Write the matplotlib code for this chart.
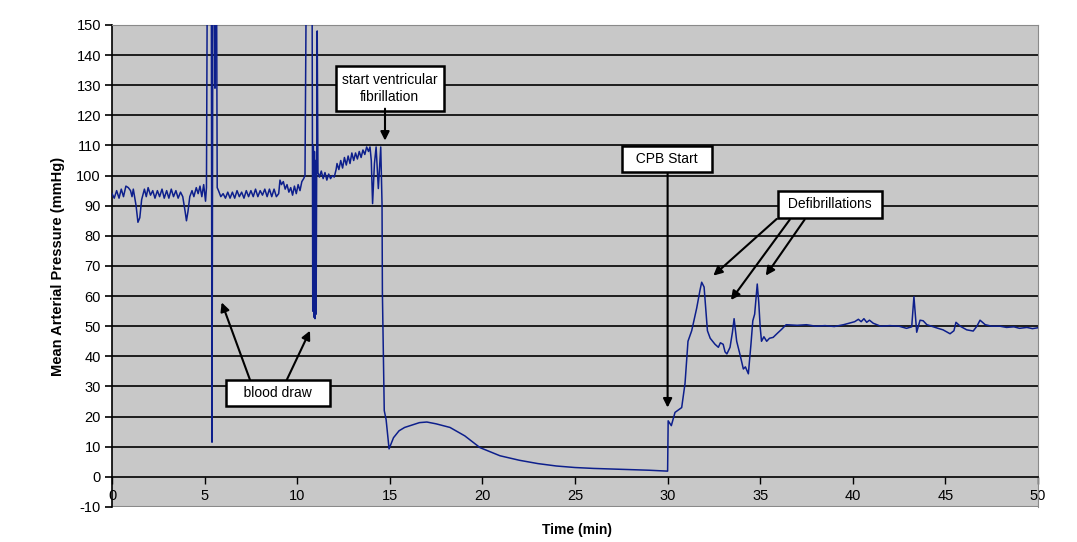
import matplotlib
matplotlib.use('Agg')
import matplotlib.pyplot as plt
import numpy as np

plt.rcParams['font.family'] = ['Liberation Sans', 'DejaVu Sans']
plt.rcParams['axes.unicode_minus'] = False

# baseline before first blood draw
pre_t = [0.0, 0.12, 0.25, 0.38, 0.5, 0.62, 0.75, 0.88, 1.0, 1.08, 1.15, 1.3, 1.4, 1.5, 1.6,
         1.75, 1.85, 1.95, 2.08, 2.2, 2.32, 2.45, 2.57, 2.7, 2.82, 2.95, 3.07, 3.2, 3.32,
         3.45, 3.57, 3.7, 3.82, 3.95, 4.02, 4.1, 4.2, 4.32, 4.42, 4.55, 4.65, 4.75, 4.85,
         4.95, 5.05, 5.1]
pre_v = [94, 92.5, 95, 92.5, 95.5, 93, 96.5, 96, 95, 93, 95.5, 90, 84.5, 86, 92,
         95.5, 93, 96, 93.5, 95, 92.5, 95, 93, 95.5, 92.5, 95, 92.5, 95.5, 93,
         95, 92.5, 94.5, 93, 88, 85, 88, 93, 95, 93, 96, 94, 96.5, 93,
         97, 91.5, 96]

# first blood draw
draw1_t = [5.15, 5.36, 5.40, 5.45, 5.52, 5.56, 5.60, 5.64, 5.68]
draw1_v = [175, 175, 11.5, 175, 175, 129, 175, 175, 96]

# baseline between draws
mid_t = [5.75, 5.875, 6.0, 6.125, 6.25, 6.375, 6.5, 6.625, 6.75, 6.875, 7.0, 7.125, 7.25,
         7.375, 7.5, 7.625, 7.75, 7.875, 8.0, 8.125, 8.25, 8.375, 8.5, 8.625, 8.75, 8.875,
         9.0, 9.07, 9.15, 9.25, 9.35, 9.45, 9.55, 9.65, 9.75, 9.85, 9.95, 10.05, 10.15,
         10.25, 10.35, 10.42]
mid_v = [95, 93, 94, 92.5, 94.5, 92.5, 94.5, 92.5, 95, 93, 94.5, 92.5, 95,
         93, 95, 93, 95.5, 93, 95, 93.5, 95.5, 93, 95.5, 93, 95.5, 93,
         94, 98.5, 97, 98, 95.5, 97, 94.5, 96, 93.5, 96.5, 94, 97, 95,
         98, 99, 100]

# second blood draw
draw2_t = [10.5, 10.80, 10.84, 10.87, 10.90, 10.93, 10.96, 10.99, 11.02, 11.08]
draw2_v = [175, 175, 55, 110, 53, 108, 52.5, 105, 54, 148]

# rise, ventricular fibrillation and decay
vf_t = [11.12, 11.2, 11.3, 11.4, 11.5, 11.6, 11.7, 11.8, 11.9, 12.0, 12.1, 12.15, 12.25,
        12.35, 12.45, 12.55, 12.65, 12.75, 12.85, 12.95, 13.05, 13.15, 13.25, 13.35, 13.45,
        13.55, 13.65, 13.75, 13.85, 13.93, 14.0, 14.07, 14.17, 14.26, 14.38, 14.51, 14.58,
        14.6, 14.7, 14.8, 14.96, 15.2, 15.5, 15.8, 16.1, 16.6, 17.0, 17.5, 18.25, 19.05,
        19.87, 20.95, 22, 23, 24, 25, 26, 27, 28, 29, 29.95]
vf_v = [101, 99.5, 101.5, 99, 101, 98.5, 100.5, 99, 100, 99.5, 102, 104, 102,
        105, 102.5, 106, 103.5, 106.5, 104, 107.5, 105, 107.5, 105.5, 108, 106,
        108.5, 107, 109.5, 108, 109.5, 105, 90.7, 104, 109.5, 95.7, 109.5, 90.6,
        61, 22, 19, 9.3, 13, 15.3, 16.4, 17, 18, 18.2, 17.6, 16.4, 13.6,
        9.7, 7, 5.5, 4.4, 3.6, 3.1, 2.8, 2.6, 2.4, 2.2, 1.9]

# CPB start and recovery
cpb_t = [30.0, 30.03, 30.2, 30.4, 30.76, 30.94, 31.1, 31.3, 31.57, 31.75, 31.84, 31.97,
         32.15, 32.3, 32.56, 32.74, 32.85, 33.0, 33.1, 33.2, 33.37, 33.5, 33.59, 33.73,
         33.9, 34.09, 34.2, 34.36, 34.5, 34.6, 34.7, 34.84, 34.92, 35.0, 35.07, 35.2,
         35.35, 35.5, 35.7, 35.9, 36.16, 36.4, 37, 37.5, 38, 38.5, 39, 39.5, 39.8, 40.1,
         40.3, 40.45, 40.6, 40.75, 40.9, 41.1, 41.3, 41.5, 42, 42.5, 42.9, 43.18, 43.3,
         43.45, 43.63, 43.8, 44.0, 44.35, 44.6, 44.87, 45.1, 45.25, 45.46, 45.57, 45.8,
         46.15, 46.5, 46.7, 46.87, 47.15, 47.5, 47.95, 48.3, 48.7, 49.0, 49.4, 49.7, 50]
cpb_v = [1.9, 18.6, 17, 21.4, 23, 31, 45, 48.5, 56, 62, 64.6, 63,
         48.5, 46, 44, 43, 44.5, 44, 41.5, 40.8, 43, 48, 52.5, 45,
         40.8, 35.8, 36.5, 34.2, 44, 51.8, 54, 64, 58, 49.6, 45, 46.5,
         45, 46, 46.3, 47.5, 49, 50.5, 50.3, 50.5, 50, 50.2, 49.9, 50.5, 51, 51.5,
         52.3, 51.5, 52.5, 51.3, 52, 51, 50.5, 50, 50.2, 50, 49.3, 49.8, 59.8,
         48, 52, 51.8, 50.5, 49.8, 49.3, 48.8, 48, 47.5, 48.5, 51.3, 50,
         48.8, 48.4, 50, 52, 50.5, 50, 50, 49.6, 49.8, 49.3, 49.6, 49.2, 49.5]

t = pre_t + draw1_t + mid_t + draw2_t + vf_t + cpb_t
v = pre_v + draw1_v + mid_v + draw2_v + vf_v + cpb_v

fig = plt.figure(figsize=(10.77, 5.42), dpi=100)
ax = fig.add_axes([0.104, 0.0646, 0.8598, 0.8894])
ax.set_facecolor('#c8c8c8')

ax.set_xlim(0, 50)
ax.set_ylim(-10, 150)
ax.set_yticks(np.arange(-10, 151, 10))
ax.set_xticks(np.arange(0, 51, 5))
for yv in range(10, 141, 10):
    ax.axhline(yv, color='black', lw=1.2, zorder=1)

ax.plot(t, v, color='#0d1f8c', lw=1.1, zorder=3)

ax.spines['bottom'].set_position(('data', 0))
ax.spines['bottom'].set_color('black')
ax.spines['bottom'].set_linewidth(1.2)
ax.spines['left'].set_color('black')
ax.spines['left'].set_linewidth(1.2)
for s in ['top', 'right']:
    ax.spines[s].set_color('#8a8a8a')
ax.axhline(-10, color='#8a8a8a', lw=1.5, zorder=2)

ax.tick_params(axis='y', direction='out', length=5, width=1.2, labelsize=10.5, pad=3)
ax.tick_params(axis='x', direction='out', length=5, width=1.0, labelsize=10.5, pad=4)

ax.set_ylabel('Mean Arterial Pressure (mmHg)', fontsize=10.5, fontweight='bold', labelpad=8)
fig.text(0.536, 0.01, 'Time (min)', fontsize=10, fontweight='bold', ha='center', va='bottom')

box = dict(boxstyle='square,pad=0.45', fc='white', ec='black', lw=1.8)
arr = dict(arrowstyle='-|>', color='black', lw=1.5, mutation_scale=13, shrinkA=0, shrinkB=0)

ax.text(15.0, 128.9, 'start ventricular\nfibrillation', ha='center', va='center',
        fontsize=10, linespacing=1.35, bbox=box, zorder=5)
ax.annotate('', xy=(14.74, 111.6), xytext=(14.74, 122.2), arrowprops=arr, zorder=5)

ax.text(8.96, 27.9, '   blood draw   ', ha='center', va='center', fontsize=10,
        bbox=box, zorder=5)
ax.annotate('', xy=(5.92, 57.9), xytext=(7.45, 32.2), arrowprops=arr, zorder=4)
ax.annotate('', xy=(10.69, 48.5), xytext=(9.43, 32.1), arrowprops=arr, zorder=4)

ax.text(29.97, 105.5, '  CPB Start  ', ha='center', va='center', fontsize=10,
        bbox=box, zorder=5)
ax.annotate('', xy=(30.0, 23), xytext=(30.0, 101.0), arrowprops=arr, zorder=4)

ax.text(38.77, 90.4, ' Defibrillations ', ha='center', va='center', fontsize=10,
        bbox=box, zorder=5)
ax.annotate('', xy=(32.47, 66.8), xytext=(35.89, 85.6), arrowprops=arr, zorder=4)
ax.annotate('', xy=(33.42, 58.7), xytext=(36.6, 85.4), arrowprops=arr, zorder=4)
ax.annotate('', xy=(35.3, 66.8), xytext=(37.4, 85.4), arrowprops=arr, zorder=4)

fig.savefig('out.png', dpi=100)
